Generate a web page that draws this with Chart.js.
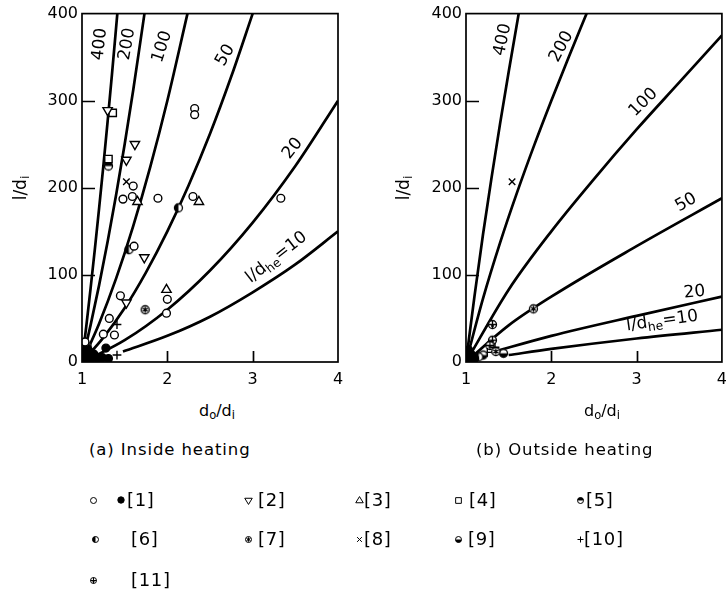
<!DOCTYPE html>
<html>
<head>
<meta charset="utf-8">
<script src="https://cdn.jsdelivr.net/npm/chart.js@4.4.1/dist/chart.umd.min.js"></script>
<style>
  html, body { margin: 0; padding: 0; background: #fff; width: 726px; height: 602px; overflow: hidden; }
  body { position: relative; font-family: "DejaVu Sans", sans-serif; color: #000; }
  canvas { position: absolute; top: 0; }
  #chartA { left: 0; }
  #chartB { left: 363px; }
  .t { position: absolute; white-space: nowrap; line-height: 1; }
  .t sub { font-size: 0.72em; vertical-align: -0.3em; line-height: 0; }
  .ytitle { font-size: 17px; transform: translate(-50%, -50%) rotate(-90deg); }
  .xtitle { font-size: 16px; transform: translate(-50%, -50%); }
  .cap { font-size: 16.5px; transform: translateY(-50%); letter-spacing: 0.9px; }
  .lg { font-size: 18px; transform: translateY(-50%); letter-spacing: 0.7px; }
  .ic { position: absolute; }
</style>
</head>
<body>
<canvas id="chartA" width="370" height="400"></canvas>
<canvas id="chartB" width="372" height="400"></canvas>

<div class="t ytitle" style="left:20px; top:188px;">l/d<sub>i</sub></div>
<div class="t ytitle" style="left:403px; top:188px;">l/d<sub>i</sub></div>
<div class="t xtitle" style="left:217px; top:411px;">d<sub>o</sub>/d<sub>i</sub></div>
<div class="t xtitle" style="left:602px; top:411px;">d<sub>o</sub>/d<sub>i</sub></div>
<div class="t cap" style="left:89px; top:450px;">(a) Inside heating</div>
<div class="t cap" style="left:476px; top:450px;">(b) Outside heating</div>
<div id="legend"></div>

<script>
// ---- axes ----
const xTickValues = [1, 2, 3, 4];
const yTickValues = [0, 100, 200, 300, 400];
const xInnerTicks = [2, 3];
const yInnerTicks = [100, 200, 300];

// ---- (a) inside heating: lines of constant l/d_he ----
const inX400 = [1, 1.05, 1.1, 1.15, 1.2, 1.25, 1.3, 1.35, 1.414];
const inY400 = [0, 41, 84, 129, 176, 225, 276, 329, 400];
const inX200 = [1, 1.1, 1.2, 1.3, 1.4, 1.5, 1.6, 1.732];
const inY200 = [0, 42, 88, 138, 192, 250, 312, 400];
const inX100 = [1, 1.2, 1.4, 1.6, 1.8, 2.0, 2.236];
const inY100 = [0, 44, 96, 156, 224, 300, 400];
const inX50 = [1, 1.25, 1.5, 1.75, 2.0, 2.25, 2.5, 2.75, 3.0];
const inY50 = [0, 28, 62, 103, 150, 203, 262, 328, 400];
const inX20 = [1.05, 1.5, 2.0, 2.5, 3.0, 3.5, 4.0];
const inY20 = [2, 25, 60, 105, 160, 225, 300];
const inX10 = [1.48, 2.0, 2.5, 3.0, 3.5, 4.0];
const inY10 = [12, 30, 52, 80, 112, 150];

// ---- (b) outside heating: lines of constant l/d_he ----
const outX400 = [1, 1.1, 1.2, 1.3, 1.4, 1.5, 1.618];
const outY400 = [0, 76, 147, 212, 274, 333, 400];
const outX200 = [1, 1.2, 1.4, 1.6, 1.8, 2.0, 2.2, 2.414];
const outY200 = [0, 73, 137, 195, 249, 300, 349, 400];
const outX100 = [1, 1.5, 2.0, 2.5, 3.0, 3.5, 4.0];
const outY100 = [0, 83, 150, 210, 267, 321, 375];
const outX50 = [1, 1.5, 2.0, 3.0, 4.0];
const outY50 = [0, 42, 75, 133, 188];
const outX20 = [1.3, 2.0, 3.0, 4.0];
const outY20 = [11, 30, 53, 75];
const outX10 = [1.5, 2.0, 3.0, 4.0];
const outY10 = [8, 15, 27, 37];

// ---- (a) measured points [d_o/d_i, l/d_i] by source ----
const inRef1Open = [[1.48,187],[1.59,190],[1.60,202],[1.89,188],[2.32,291],[2.32,284],[2.30,190],[3.33,188],
                    [1.61,133],[1.45,76],[1.32,50],[1.25,32],[1.38,31],[1.035,23],[2.0,72],[1.99,56]];
const inRef1Filled = [[1.28,16],[1.05,6],[1.10,3],[1.14,9],[1.19,4],[1.08,13],[1.24,5],[1.31,4],
                      [1.03,3],[1.03,11],[1.06,16],[1.12,5]];
const inRef2 = [[1.30,289],[1.62,250],[1.52,232],[1.73,120],[1.52,68]];
const inRef3 = [[1.65,184],[2.37,184],[1.99,83]];
const inRef4 = [[1.36,286],[1.31,233]];
const inRef5 = [[1.31,225]];
const inRef6 = [[1.55,129],[2.13,177],[1.06,18]];
const inRef7 = [[1.74,60]];
const inRef8 = [[1.52,207]];
const inRef10 = [[1.41,43],[1.41,8]];

// ---- (b) measured points [d_o/d_i, l/d_i] by source ----
const outRef1Filled = [[1.06,9],[1.10,4],[1.04,3],[1.03,14],[1.08,6]];
const outRef6 = [[1.15,6]];
const outRef7 = [[1.79,61],[1.35,12]];
const outRef8 = [[1.54,207]];
const outRef9 = [[1.44,10],[1.20,8]];
const outRef10 = [[1.25,11],[1.34,17]];
const outRef11 = [[1.31,43],[1.31,25],[1.28,19]];

const FONT = '"DejaVu Sans", sans-serif';

function xy(xs, ys) { return xs.map((x, i) => ({ x: x, y: ys[i] })); }
function pairs(a) { return a.map(p => ({ x: p[0], y: p[1] })); }

// draws one of the marker glyphs centred on (cx, cy)
function drawMarker(ctx, kind, cx, cy, r, lw) {
  ctx.save();
  ctx.lineWidth = lw;
  ctx.strokeStyle = '#000';
  ctx.fillStyle = '#fff';
  const circle = () => { ctx.beginPath(); ctx.arc(cx, cy, r, 0, Math.PI * 2); };
  const half = (a0, a1) => {
    circle(); ctx.fillStyle = '#fff'; ctx.fill();
    ctx.beginPath(); ctx.arc(cx, cy, r, a0, a1); ctx.closePath();
    ctx.fillStyle = '#000'; ctx.fill();
    circle(); ctx.stroke();
  };
  switch (kind) {
    case 'open': circle(); ctx.fill(); ctx.stroke(); break;
    case 'filled': circle(); ctx.fillStyle = '#000'; ctx.fill(); ctx.stroke(); break;
    case 'topHalf': half(Math.PI, Math.PI * 2); break;
    case 'bottomHalf': half(0, Math.PI); break;
    case 'leftHalf': half(Math.PI / 2, Math.PI * 1.5); break;
    case 'down': case 'up': {
      const s = r * 1.25, dir = kind === 'up' ? -1 : 1;
      ctx.beginPath();
      ctx.moveTo(cx - s, cy - dir * s * 0.6);
      ctx.lineTo(cx + s, cy - dir * s * 0.6);
      ctx.lineTo(cx, cy + dir * s * 1.05);
      ctx.closePath(); ctx.fill(); ctx.stroke(); break;
    }
    case 'square': {
      const s = r * 0.95;
      ctx.beginPath(); ctx.rect(cx - s, cy - s, 2 * s, 2 * s); ctx.fill(); ctx.stroke(); break;
    }
    case 'star': {
      circle(); ctx.fill(); ctx.stroke();
      ctx.beginPath();
      for (let k = 0; k < 3; k++) {
        const a = k * Math.PI / 3 + Math.PI / 2, d = r * 0.75;
        ctx.moveTo(cx - d * Math.cos(a), cy - d * Math.sin(a));
        ctx.lineTo(cx + d * Math.cos(a), cy + d * Math.sin(a));
      }
      ctx.stroke();
      ctx.beginPath(); ctx.arc(cx, cy, r * 0.35, 0, Math.PI * 2); ctx.fillStyle = '#000'; ctx.fill();
      break;
    }
    case 'oplus': {
      circle(); ctx.fill(); ctx.stroke();
      ctx.beginPath();
      ctx.moveTo(cx - r, cy); ctx.lineTo(cx + r, cy);
      ctx.moveTo(cx, cy - r); ctx.lineTo(cx, cy + r);
      ctx.stroke();
      ctx.beginPath(); ctx.arc(cx, cy + r * 0.35, r * 0.35, 0, Math.PI * 2); ctx.fillStyle = '#000'; ctx.fill();
      break;
    }
    case 'x': {
      const d = r * 0.8;
      ctx.beginPath();
      ctx.moveTo(cx - d, cy - d); ctx.lineTo(cx + d, cy + d);
      ctx.moveTo(cx + d, cy - d); ctx.lineTo(cx - d, cy + d);
      ctx.stroke(); break;
    }
    case 'plus': {
      const d = r * 1.0;
      ctx.beginPath();
      ctx.moveTo(cx - d, cy); ctx.lineTo(cx + d, cy);
      ctx.moveTo(cx, cy - d); ctx.lineTo(cx, cy + d);
      ctx.stroke(); break;
    }
  }
  ctx.restore();
}

function markerCanvas(kind, r, lw) {
  const c = document.createElement('canvas');
  const s = Math.ceil(2 * (r * 1.5 + lw)) + 2;
  c.width = s; c.height = s;
  drawMarker(c.getContext('2d'), kind, s / 2, s / 2, r, lw);
  return c;
}

function curve(xs, ys) {
  return {
    data: xy(xs, ys), showLine: true, borderColor: '#000', borderWidth: 2.7,
    pointRadius: 0, pointHoverRadius: 0, cubicInterpolationMode: 'monotone', order: 2
  };
}

// vector point styles for the simple symbols, small drawn images for the rest
const builtIn = {
  open:   { pointStyle: 'circle', pointRadius: 3.9, pointBackgroundColor: '#fff' },
  filled: { pointStyle: 'circle', pointRadius: 3.9, pointBackgroundColor: '#000' },
  down:   { pointStyle: 'triangle', pointRadius: 5.4, pointRotation: 180, pointBackgroundColor: '#fff' },
  up:     { pointStyle: 'triangle', pointRadius: 5.4, pointBackgroundColor: '#fff' },
  square: { pointStyle: 'rect', pointRadius: 5.2, pointBackgroundColor: '#fff' },
  x:      { pointStyle: 'crossRot', pointRadius: 4.6, pointBackgroundColor: '#fff' },
  plus:   { pointStyle: 'cross', pointRadius: 4.4, pointBackgroundColor: '#fff' }
};
function marks(arr, kind) {
  const base = { data: pairs(arr), showLine: false, order: 1, pointBorderColor: '#000', pointBorderWidth: 1.4 };
  if (builtIn[kind]) return Object.assign(base, builtIn[kind], { pointHoverRadius: builtIn[kind].pointRadius });
  return Object.assign(base, { pointStyle: markerCanvas(kind, 4, 1.3), pointRadius: 4, pointHoverRadius: 4 });
}

// writes text made of normal and subscript parts, centred on the origin
function drawRich(ctx, parts, size) {
  const subSize = size * 0.72;
  let w = 0;
  parts.forEach(p => {
    ctx.font = (p.sub ? subSize : size) + 'px ' + FONT;
    p.w = ctx.measureText(p.t).width; w += p.w;
  });
  let x = -w / 2;
  ctx.textBaseline = 'middle';
  ctx.fillStyle = '#000';
  parts.forEach(p => {
    ctx.font = (p.sub ? subSize : size) + 'px ' + FONT;
    ctx.fillText(p.t, x, p.sub ? size * 0.3 : 0);
    x += p.w;
  });
}

// box frame, inward tick marks and the l/d_he labels of the curves
const panelDecor = {
  id: 'panelDecor',
  afterDatasetsDraw(chart, args, opts) {
    const { ctx, chartArea: a, scales: { x, y } } = chart;
    ctx.save();
    ctx.strokeStyle = '#000';
    ctx.lineWidth = 1.7;
    ctx.strokeRect(a.left, a.top, a.right - a.left, a.bottom - a.top);
    ctx.beginPath();
    yInnerTicks.forEach(v => {
      const py = Math.round(y.getPixelForValue(v)) + 0.5;
      ctx.moveTo(a.left, py); ctx.lineTo(a.left + 13, py);
    });
    xInnerTicks.forEach(v => {
      const px = Math.round(x.getPixelForValue(v)) + 0.5;
      ctx.moveTo(px, a.bottom); ctx.lineTo(px, a.bottom - 11);
    });
    ctx.stroke();
    (opts.labels || []).forEach(l => {
      ctx.save();
      ctx.translate(x.getPixelForValue(l.at[0]), y.getPixelForValue(l.at[1]));
      ctx.rotate(l.angle * Math.PI / 180);
      drawRich(ctx, l.parts, l.size || 17);
      ctx.restore();
    });
    ctx.restore();
  }
};

function scales(yWidth) {
  const tickFont = { family: FONT, size: 16 };
  return {
    x: {
      type: 'linear', min: 1, max: 4,
      afterBuildTicks: s => { s.ticks = xTickValues.map(v => ({ value: v })); },
      ticks: { color: '#000', font: tickFont, padding: 8, maxRotation: 0, autoSkip: false },
      grid: { display: false, drawTicks: false }, border: { display: false },
      afterFit: s => { s.height = 38; }
    },
    y: {
      type: 'linear', min: 0, max: 400,
      afterBuildTicks: s => { s.ticks = yTickValues.map(v => ({ value: v })); },
      ticks: { color: '#000', font: tickFont, padding: 4, autoSkip: false },
      grid: { display: false, drawTicks: false }, border: { display: false },
      afterFit: s => { s.width = yWidth; }
    }
  };
}

const num = t => [{ t: t }];
const tenLabel = [{ t: 'l/d' }, { t: 'he', sub: true }, { t: '=10' }];

new Chart(document.getElementById('chartA'), {
  type: 'scatter',
  data: {
    datasets: [
      marks(inRef1Open, 'open'), marks(inRef1Filled, 'filled'), marks(inRef2, 'down'),
      marks(inRef3, 'up'), marks(inRef4, 'square'), marks(inRef5, 'topHalf'),
      marks(inRef6, 'leftHalf'), marks(inRef7, 'star'), marks(inRef8, 'x'), marks(inRef10, 'plus'),
      curve(inX400, inY400), curve(inX200, inY200), curve(inX100, inY100),
      curve(inX50, inY50), curve(inX20, inY20), curve(inX10, inY10)
    ]
  },
  options: {
    responsive: false, animation: false,
    layout: { padding: { top: 13, right: 32, left: 0, bottom: 0 } },
    scales: scales(82),
    plugins: {
      legend: { display: false }, tooltip: { enabled: false },
      panelDecor: {
        labels: [
          { parts: num('400'), at: [1.21, 365], angle: -84 },
          { parts: num('200'), at: [1.53, 365], angle: -80 },
          { parts: num('100'), at: [1.94, 362], angle: -72 },
          { parts: num('50'), at: [2.68, 352], angle: -60 },
          { parts: num('20'), at: [3.47, 245], angle: -52 },
          { parts: tenLabel, at: [3.28, 120], angle: -38 }
        ]
      }
    }
  },
  plugins: [panelDecor]
});

new Chart(document.getElementById('chartB'), {
  type: 'scatter',
  data: {
    datasets: [
      marks(outRef1Filled, 'filled'), marks(outRef6, 'leftHalf'), marks(outRef7, 'star'),
      marks(outRef8, 'x'), marks(outRef9, 'bottomHalf'), marks(outRef10, 'plus'), marks(outRef11, 'oplus'),
      curve(outX400, outY400), curve(outX200, outY200), curve(outX100, outY100),
      curve(outX50, outY50), curve(outX20, outY20), curve(outX10, outY10)
    ]
  },
  options: {
    responsive: false, animation: false,
    layout: { padding: { top: 13, right: 12, left: 0, bottom: 0 } },
    scales: scales(103),
    plugins: {
      legend: { display: false }, tooltip: { enabled: false },
      panelDecor: {
        labels: [
          { parts: num('400'), at: [1.43, 370], angle: -78 },
          { parts: num('200'), at: [2.12, 362], angle: -62 },
          { parts: num('100'), at: [3.08, 298], angle: -45 },
          { parts: num('50'), at: [3.58, 183], angle: -30 },
          { parts: num('20'), at: [3.68, 80], angle: -6 },
          { parts: tenLabel, at: [3.30, 47], angle: -8 }
        ]
      }
    }
  },
  plugins: [panelDecor]
});

// ---- key to the sources ----
const legendItems = [
  { icons: [['open', 93], ['filled', 121]], text: '[1]', tx: 127, row: 0 },
  { icons: [['down', 248]], text: '[2]', tx: 258, row: 0 },
  { icons: [['up', 359]], text: '[3]', tx: 364, row: 0 },
  { icons: [['square', 458]], text: '[4]', tx: 469, row: 0 },
  { icons: [['topHalf', 580]], text: '[5]', tx: 586, row: 0 },
  { icons: [['leftHalf', 95]], text: '[6]', tx: 131, row: 1 },
  { icons: [['star', 248]], text: '[7]', tx: 258, row: 1 },
  { icons: [['x', 359]], text: '[8]', tx: 364, row: 1 },
  { icons: [['bottomHalf', 458]], text: '[9]', tx: 468, row: 1 },
  { icons: [['plus', 580]], text: '[10]', tx: 584, row: 1 },
  { icons: [['oplus', 93]], text: '[11]', tx: 131, row: 2 }
];
const rowY = [500, 539, 580];
const lg = document.getElementById('legend');
legendItems.forEach(it => {
  it.icons.forEach(([kind, cx]) => {
    const c = markerCanvas(kind, kind === 'filled' ? 3.2 : 3, 1);
    c.className = 'ic';
    c.style.left = (cx - c.width / 2) + 'px';
    c.style.top = (rowY[it.row] - c.height / 2) + 'px';
    lg.appendChild(c);
  });
  const d = document.createElement('div');
  d.className = 't lg';
  d.style.left = it.tx + 'px';
  d.style.top = rowY[it.row] + 'px';
  d.textContent = it.text;
  lg.appendChild(d);
});
</script>
</body>
</html>
